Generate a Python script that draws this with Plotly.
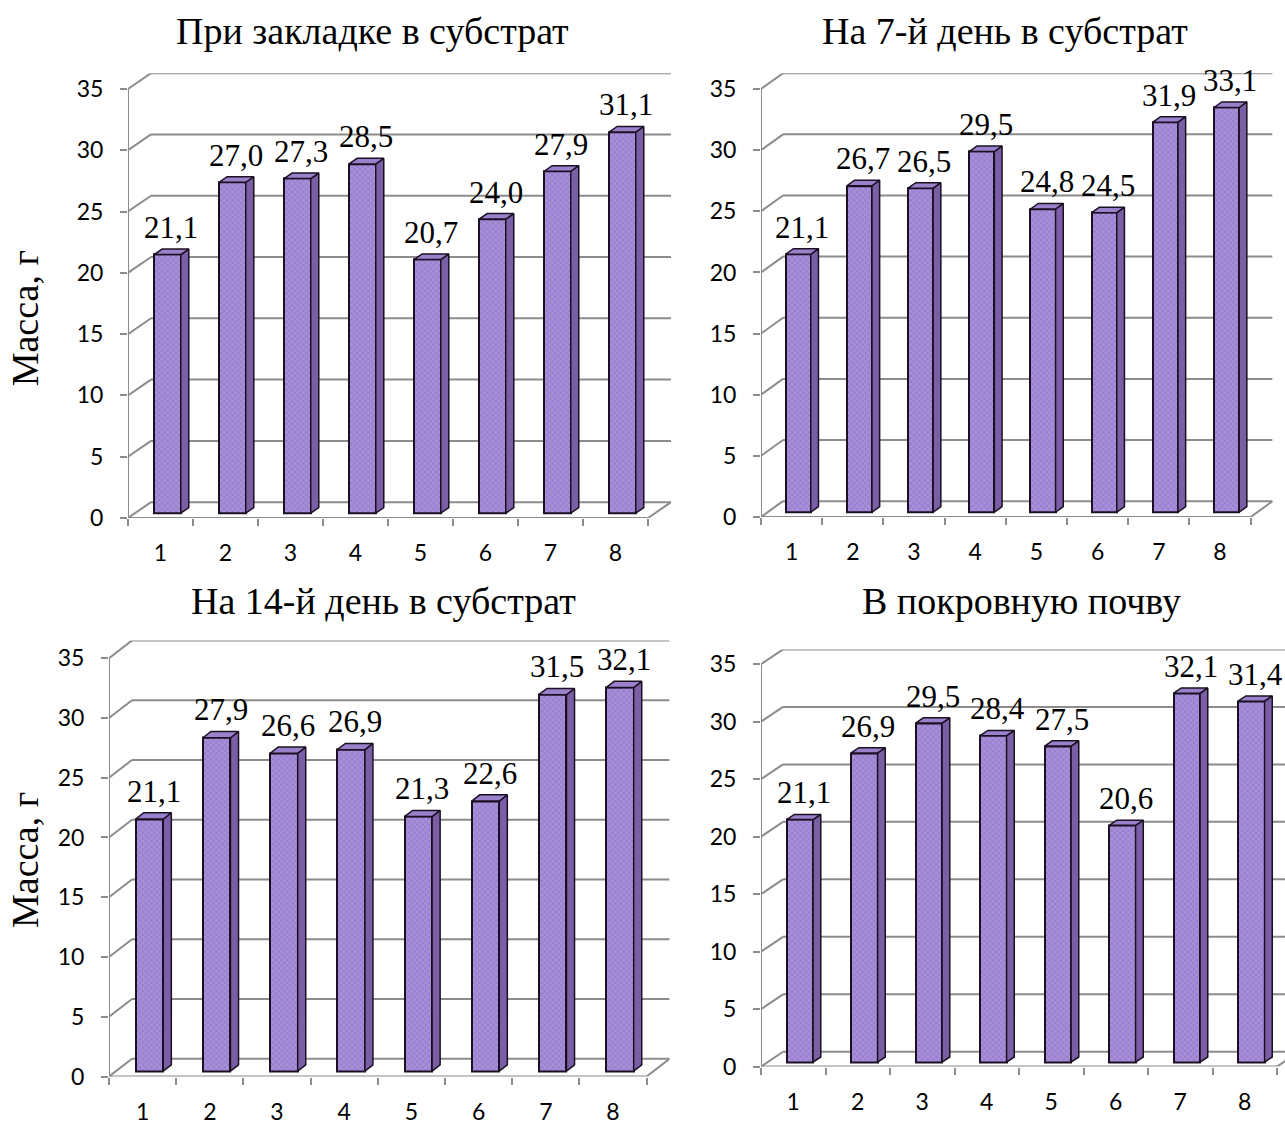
import plotly.graph_objects as go

W, H = 1285, 1133

# Data
categories = [1, 2, 3, 4, 5, 6, 7, 8]
tick_labels = ["1", "2", "3", "4", "5", "6", "7", "8"]
y_ticks = [0, 5, 10, 15, 20, 25, 30, 35]

mass_start = [21.1, 27.0, 27.3, 28.5, 20.7, 24.0, 27.9, 31.1]
mass_day7 = [21.1, 26.7, 26.5, 29.5, 24.8, 24.5, 31.9, 33.1]
mass_day14 = [21.1, 27.9, 26.6, 26.9, 21.3, 22.6, 31.5, 32.1]
mass_cover = [21.1, 26.9, 29.5, 28.4, 27.5, 20.6, 32.1, 31.4]

titles = [
    "При закладке в субстрат",
    "На 7-й день в субстрат",
    "На 14-й день в субстрат",
    "В покровную почву",
]
y_title = "Масса, г"

# Panel geometry (pixels): front axis x, category width, zero line y,
# pixels per gram, depth offset of the back wall (dx, dy), title centre
panels = [
    dict(vals=mass_start, title=titles[0], x0=128, cw=65.0, y0=524, ppu=12.4,
         ddx=23, ddy=16, tx=372, ty=31, ytitle=(25, 322)),
    dict(vals=mass_day7, title=titles[1], x0=761, cw=61.2, y0=523, ppu=12.37,
         ddx=22, ddy=16, tx=1005, ty=31, ytitle=None),
    dict(vals=mass_day14, title=titles[2], x0=109, cw=67.2, y0=1089, ppu=12.09,
         ddx=23, ddy=18, tx=383, ty=608, ytitle=(25, 870)),
    dict(vals=mass_cover, title=titles[3], x0=761, cw=64.5, y0=1079, ppu=11.63,
         ddx=22, ddy=15, tx=1022, ty=608, ytitle=None),
]

GRID = "#8c8c8c"
FRONT = "#a88fda"
FRONT_DOT = "#8c72c2"
SIDE = "#7a5fa6"
TOP = "#9b81cb"
EDGE = "#1b1022"
SERIF = "Liberation Serif"
SANS = "Lato"

F1 = 0.30   # depth position of bar front face (fraction of wall depth)
BD = 0.35   # bar depth (fraction of wall depth)
BW = 0.41   # bar width (fraction of category)

fig = go.Figure()
shapes = []
annotations = []

for k, p in enumerate(panels, start=1):
    xa = "x" if k == 1 else f"x{k}"
    ya = "y" if k == 1 else f"y{k}"
    dxu = p["ddx"] / p["cw"]
    dyu = p["ddy"] / p["ppu"]
    x_end = min(p["x0"] + 8 * p["cw"] + p["ddx"], W)
    y_top = p["y0"] - 35 * p["ppu"] - p["ddy"]
    xr_end = 0.5 + (x_end - p["x0"]) / p["cw"]

    axis_x = dict(
        domain=[p["x0"] / W, x_end / W], range=[0.5, xr_end], anchor=ya,
        showgrid=False, zeroline=False, showline=False,
        tickmode="array", tickvals=categories, ticktext=tick_labels, ticks="",
        tickfont=dict(family=SANS, size=23, color="#000"),
        ticklabelstandoff=19,
        minor=dict(tickmode="array", tickvals=[c - 0.5 for c in categories] + [8.5],
                   ticks="outside", ticklen=7, tickwidth=2, tickcolor=GRID,
                   showgrid=False),
    )
    axis_y = dict(
        domain=[1 - p["y0"] / H, 1 - y_top / H], range=[0, 35 + dyu], anchor=xa,
        showgrid=False, zeroline=False, showline=False,
        tickmode="array", tickvals=y_ticks, ticks="outside", ticklen=7,
        tickwidth=2, tickcolor=GRID,
        tickfont=dict(family=SANS, size=23, color="#000"),
        ticklabelstandoff=12,
    )
    fig.update_layout(**{("xaxis" if k == 1 else f"xaxis{k}"): axis_x,
                         ("yaxis" if k == 1 else f"yaxis{k}"): axis_y})

    # walls and gridlines
    def seg(x0, y0, x1, y1):
        shapes.append(dict(type="line", xref=xa, yref=ya, x0=x0, y0=y0, x1=x1, y1=y1,
                           line=dict(color=GRID, width=2), layer="below"))

    for v in y_ticks:
        seg(0.5, v, 0.5 + dxu, v + dyu)
        seg(0.5 + dxu, v + dyu, 8.5 + dxu, v + dyu)
    seg(0.5, 0, 8.5, 0)
    seg(8.5, 0, 8.5 + dxu, dyu)
    seg(0.5, 0, 0.5, 35)

    base = F1 * dyu
    xc = [c + F1 * dxu for c in categories]

    # front faces
    fig.add_trace(go.Bar(
        x=xc, y=p["vals"], base=base, width=BW, xaxis=xa, yaxis=ya,
        marker=dict(color=FRONT, line=dict(color=EDGE, width=2),
                    pattern=dict(shape="x", size=4, solidity=0.3,
                                 fgcolor=FRONT_DOT, bgcolor=FRONT,
                                 fillmode="replace")),
        hoverinfo="skip", showlegend=False,
    ))

    # side and top faces
    sx, sy, tx_, ty_ = [], [], [], []
    for c, v in zip(xc, p["vals"]):
        xl, xr = c - BW / 2, c + BW / 2
        ox, oy = BD * dxu, BD * dyu
        sx += [xr, xr + ox, xr + ox, xr, xr, None]
        sy += [base, base + oy, base + v + oy, base + v, base, None]
        tx_ += [xl, xr, xr + ox, xl + ox, xl, None]
        ty_ += [base + v, base + v, base + v + oy, base + v + oy, base + v, None]
        annotations.append(dict(
            x=c + ox / 2, y=base + v + oy, xref=xa, yref=ya,
            text=f"{v:.1f}".replace(".", ","), showarrow=False,
            yanchor="bottom", yshift=2,
            font=dict(family=SERIF, size=31, color="#000"),
        ))
    fig.add_trace(go.Scatter(x=sx, y=sy, xaxis=xa, yaxis=ya, mode="lines",
                             fill="toself", fillcolor=SIDE,
                             line=dict(color=EDGE, width=1.5),
                             hoverinfo="skip", showlegend=False))
    fig.add_trace(go.Scatter(x=tx_, y=ty_, xaxis=xa, yaxis=ya, mode="lines",
                             fill="toself", fillcolor=TOP,
                             line=dict(color=EDGE, width=1.5),
                             hoverinfo="skip", showlegend=False))

    annotations.append(dict(
        x=p["tx"] / W, y=1 - p["ty"] / H, xref="paper", yref="paper",
        text=p["title"], showarrow=False, xanchor="center", yanchor="middle",
        font=dict(family=SERIF, size=38, color="#000"),
    ))
    if p["ytitle"]:
        annotations.append(dict(
            x=p["ytitle"][0] / W, y=1 - p["ytitle"][1] / H, xref="paper", yref="paper",
            text=y_title, showarrow=False, textangle=-90,
            xanchor="center", yanchor="middle",
            font=dict(family=SERIF, size=38, color="#000"),
        ))

fig.update_layout(
    width=W, height=H, margin=dict(l=0, r=0, t=0, b=0),
    paper_bgcolor="white", plot_bgcolor="rgba(0,0,0,0)",
    shapes=shapes, annotations=annotations, bargap=0,
)

fig.write_html("out.html")
